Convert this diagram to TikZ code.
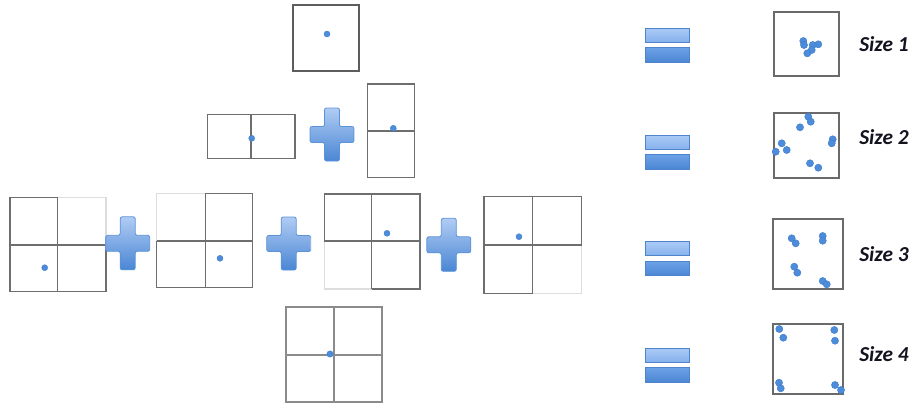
\documentclass[tikz,border=0pt]{standalone}
\usepackage{fontspec}
\newfontfamily\labelfont{Carlito}
\definecolor{gridgray}{HTML}{6E6E6E}
\definecolor{faintgray}{HTML}{DDDDDD}
\definecolor{boxgray}{HTML}{6A6A6A}
\definecolor{plustop}{HTML}{B0CCF4}
\definecolor{plusbot}{HTML}{4A86D4}
\definecolor{plusedge}{HTML}{5C92D6}
\definecolor{eqAtop}{HTML}{AACAF5}
\definecolor{eqAbot}{HTML}{86B2EE}
\definecolor{eqBtop}{HTML}{6DA2E7}
\definecolor{eqBbot}{HTML}{4B86D3}
\definecolor{eqedge}{HTML}{4F84CC}
\definecolor{dotblue}{HTML}{4D8CDA}
\definecolor{dotedge}{HTML}{3F7BC8}
\definecolor{labelink}{HTML}{141420}
\tikzset{
  gridline/.style={draw=gridgray, line width=0.9pt},
  faintline/.style={draw=faintgray, line width=0.9pt},
  framebox/.style={draw=boxgray, line width=1.4pt},
  smalldot/.style={fill=dotblue, draw=dotedge, line width=0.3pt},
  bigdot/.style={fill=dotblue, draw=dotedge, line width=0.3pt},
  sizelabel/.style={anchor=base west, inner sep=0pt, text=labelink,
    font=\labelfont\bfseries\itshape\fontsize{16}{19}\selectfont},
  eqtopbar/.style={top color=eqAtop, bottom color=eqAbot, draw=eqedge, line width=0.6pt},
  eqbotbar/.style={top color=eqBtop, bottom color=eqBbot, draw=eqedge, line width=0.6pt},
  plussign/.pic={
    \path[top color=plustop, bottom color=plusbot, draw=plusedge, line width=0.6pt, rounded corners=1.5pt]
      (-7.5,-26.5) -- (7.5,-26.5) -- (7.5,-8) -- (22,-8) -- (22,8) -- (7.5,8)
      -- (7.5,26.5) -- (-7.5,26.5) -- (-7.5,8) -- (-22,8) -- (-22,-8) -- (-7.5,-8) -- cycle;
  },
  equalsign/.pic={
    \path[eqtopbar] (-22,-17) rectangle (22,-3);
    \path[eqbotbar] (-22,2.3) rectangle (22,17);
  }
}
\begin{document}
\begin{tikzpicture}[x=0.75pt, y=-0.75pt]
\useasboundingbox (0,0) rectangle (913,407);

% ---- Row 1: single square
\draw[draw=gridgray!85!black, line width=1.3pt] (293,5) rectangle (359,71);
\fill[smalldot] (327,34) circle (3);

% ---- Row 2: halves
\draw[gridline] (207.3,114.3) rectangle (295,158.3);
\draw[gridline] (251,114.3) -- (251,158.3);
\fill[smalldot] (251.7,138.3) circle (3);
\pic at (332,134.5) {plussign};
\draw[gridline] (367.7,84) rectangle (414.3,177.7);
\draw[gridline] (367.7,131) -- (414.3,131);
\fill[smalldot] (393.3,128.3) circle (3);

% ---- Row 3: quarters
% square A (faint top-right quadrant)
\draw[faintline] (57.3,197.3) -- (106,197.3) -- (106,245);
\draw[gridline] (57.3,197.3) -- (10,197.3) -- (10,291.7) -- (106,291.7) -- (106,245);
\draw[gridline] (57.3,197.3) -- (57.3,291.7);
\draw[gridline] (10,245) -- (106,245);
\fill[smalldot] (44.7,267.7) circle (3);
\pic at (127.7,243.3) {plussign};
% square B (faint top-left quadrant)
\draw[faintline] (156.7,241) -- (156.7,193.3) -- (205.7,193.3);
\draw[gridline] (205.7,193.3) -- (252.7,193.3) -- (252.7,287.7) -- (156.7,287.7) -- (156.7,241);
\draw[gridline] (205.7,193.3) -- (205.7,287.7);
\draw[gridline] (156.7,241) -- (252.7,241);
\fill[smalldot] (220,258.3) circle (3);
\pic at (288.7,243.5) {plussign};
% square C (faint bottom-left quadrant)
\draw[faintline] (324.3,241) -- (324.3,289) -- (371.7,289);
\draw[gridline] (324.3,241) -- (324.3,194) -- (420,194) -- (420,289) -- (371.7,289);
\draw[gridline] (371.7,194) -- (371.7,289);
\draw[gridline] (324.3,241) -- (420,241);
\fill[smalldot] (387,233.3) circle (3);
\pic at (448.8,244.8) {plussign};
% square D (faint bottom-right quadrant)
\draw[faintline] (581.7,245) -- (581.7,293.3) -- (532.7,293.3);
\draw[gridline] (532.7,293.3) -- (484,293.3) -- (484,196.7) -- (581.7,196.7) -- (581.7,245);
\draw[gridline] (532.7,196.7) -- (532.7,293.3);
\draw[gridline] (484,245) -- (581.7,245);
\fill[smalldot] (519,236.7) circle (3);

% ---- Row 4: shared corner
\draw[draw=gridgray!80, line width=1.3pt] (286,307.3) rectangle (382.3,401.7);
\draw[draw=gridgray!80, line width=1.3pt] (334.3,307.3) -- (334.3,401.7);
\draw[draw=gridgray!80, line width=1.3pt] (286,355) -- (382.3,355);
\fill[smalldot] (330,354) circle (3.2);

% ---- Equals signs
\pic at (667.6,45) {equalsign};
\pic at (667.6,152) {equalsign};
\pic at (667.6,258.7) {equalsign};
\pic at (667.6,365) {equalsign};

% ---- Result boxes
\draw[framebox] (774,12.3) rectangle (839.3,76.3);
\foreach \p in {(803.3,41),(804,45),(818.3,44.3),(812.7,45),(811.7,50),(807.3,53.3)}
  \fill[bigdot] \p circle (3.6);
\draw[framebox] (774,112.7) rectangle (839.3,177.7);
\foreach \p in {(808.3,116.7),(810.7,121.7),(800,127.3),(781.7,143.3),(786.7,150),(775.7,151.7),(832.7,139.3),(831.7,143.3),(810,163.3),(818.3,167.7)}
  \fill[bigdot] \p circle (3.6);
\draw[framebox] (773.3,219.3) rectangle (843.3,289.3);
\foreach \p in {(791.7,238.3),(795.7,243.3),(822.7,236),(822.7,240.7),(794.3,266.7),(797.3,272.7),(822.7,281),(826.7,284.3)}
  \fill[bigdot] \p circle (3.6);
\draw[framebox] (773.3,324.3) rectangle (843.3,394.3);
\foreach \p in {(779.3,329),(783.3,337.7),(834.3,330),(835,340.7),(779,382.7),(780.7,388.3),(835,385),(841,390)}
  \fill[bigdot] \p circle (3.6);

% ---- Labels
\node[sizelabel] (s1) at (859,51.7) {Size 1};
\node[sizelabel] (s2) at (859,144) {Size 2};
\node[sizelabel] (s3) at (859,261.7) {Size 3};
\node[sizelabel] (s4) at (859,361.7) {Size 4};
\end{tikzpicture}
\end{document}
